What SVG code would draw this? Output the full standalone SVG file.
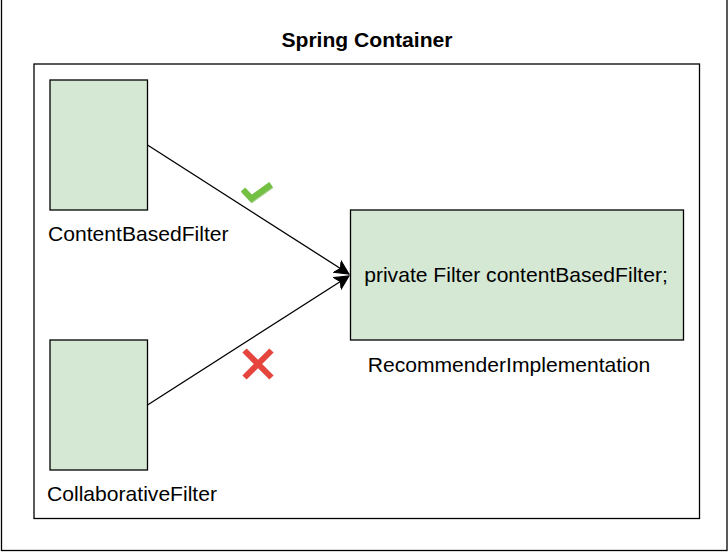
<svg xmlns="http://www.w3.org/2000/svg" width="728" height="553" viewBox="0 0 728 553">
<style>
.frame{fill:#fff;stroke:#000;stroke-width:1.3}
.node{fill:#d5e8d4;stroke:#000;stroke-width:1.3}
.lbl{font-family:"Liberation Sans",Arial,sans-serif;font-size:21.1px;fill:#000}
.edge{stroke:#000;stroke-width:1.3;fill:none}
</style>
<defs>
<marker id="arr" markerUnits="userSpaceOnUse" markerWidth="16" markerHeight="16" refX="13" refY="6.5" orient="auto" viewBox="0 0 15 13">
<path d="M0,0 L13,6.5 L0,13 L3.5,6.5 Z" fill="#000" stroke="#000" stroke-width="1"/>
</marker>
</defs>
<rect width="728" height="553" fill="#fff"/>
<g id="spring-container">
<rect class="frame" x="1.5" y="-10" width="725.5" height="560.5"/>
<text class="lbl" x="367" y="47" text-anchor="middle" font-weight="bold">Spring Container</text>
<rect class="frame" x="34" y="64" width="665.5" height="454.5"/>
</g>
<g id="content-based-filter">
<rect class="node" x="50" y="80" width="97.5" height="130"/>
<text class="lbl" x="48" y="241">ContentBasedFilter</text>
</g>
<g id="collaborative-filter">
<rect class="node" x="50" y="340" width="97.5" height="130"/>
<text class="lbl" x="47" y="501">CollaborativeFilter</text>
</g>
<g id="recommender-implementation">
<rect class="node" x="350.5" y="210" width="333" height="130"/>
<text class="lbl" x="516" y="282" text-anchor="middle">private Filter contentBasedFilter;</text>
<text class="lbl" x="509" y="372" text-anchor="middle">RecommenderImplementation</text>
</g>
<g id="connectors">
<line class="edge" x1="147.5" y1="145" x2="349" y2="274" marker-end="url(#arr)"/>
<line class="edge" x1="147.5" y1="405" x2="349" y2="276" marker-end="url(#arr)"/>
</g>
<g id="check-mark">
<path d="M243,189.5 L251.5,198.5 L271,184.5" fill="none" stroke="#5aa02c" stroke-opacity="0.5" stroke-width="6" transform="translate(0.6,1)"/>
<path d="M243,189.5 L251.5,198.5 L271,184.5" fill="none" stroke="#74c043" stroke-width="6"/>
</g>
<g id="cross-mark">
<path d="M244.5,350.5 L271.5,377.5 M271.5,350.5 L244.5,377.5" fill="none" stroke="#e5453d" stroke-width="6"/>
</g>
</svg>
